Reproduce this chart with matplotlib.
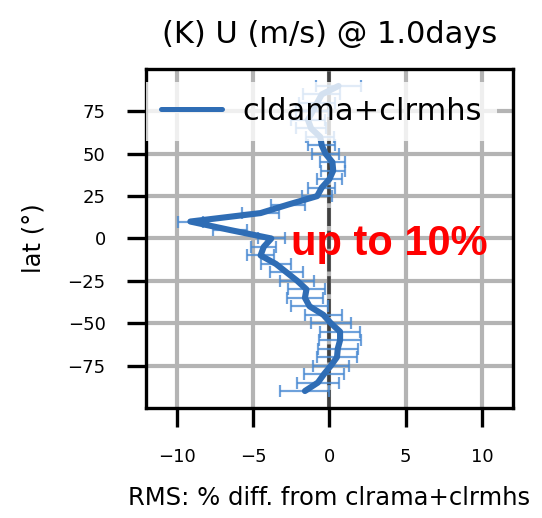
import numpy as np
import matplotlib
matplotlib.use("Agg")
import matplotlib.pyplot as plt

# latitude of each zonal band (deg)
lat = [90, 85, 80, 75, 70, 65, 60, 55, 50, 45, 40, 35, 30, 25, 20, 15, 10, 5,
       0, -5, -10, -15, -20, -25, -30, -35, -40, -45, -50, -55, -60, -65, -70,
       -75, -80, -85, -90]
# RMS % difference from clrama+clrmhs
rms_diff = [0.6, -0.5, -0.8, -1.1, -1.4, -1.2, -0.6, -0.5, -0.25, 0.2, 0.25,
            0.0, -0.5, -0.8, -2.7, -4.5, -9.1, -6.5, -3.8, -4.3, -4.5, -3.5,
            -2.8, -2.1, -1.5, -1.6, -1.3, -0.4, 0.1, 0.7, 0.7, 0.55, 0.5, 0.1,
            -0.35, -0.75, -1.6]
# error bar half widths
rms_err = [1.5, 1.2, 1.2, 1.1, 1.1, 1.0, 0.9, 0.9, 0.9, 0.8, 0.8, 0.8, 0.9,
           1.0, 1.1, 1.2, 0.8, 1.1, 0.9, 0.8, 0.9, 1.0, 1.1, 1.1, 1.2, 1.2,
           1.2, 1.2, 1.3, 1.3, 1.4, 1.3, 1.3, 1.2, 1.3, 1.4, 1.6]

xticks = [-10, -5, 0, 5, 10]
yticks = [-75, -50, -25, 0, 25, 50, 75]

line_col = "#2f6db5"
err_col = "#4a8ad2"

fig = plt.figure(figsize=(5.42, 5.18), dpi=100)
ax = fig.add_axes([0.2694, 0.2124, 0.6766, 0.6544])

ax.grid(True, color="#b4b4b4", linewidth=3.0, zorder=0)
ax.set_axisbelow(True)
ax.axvline(0, color="#404040", linewidth=2.6, dashes=(5, 1.3), zorder=1)

ax.errorbar(rms_diff, lat, xerr=rms_err, fmt="none", ecolor=err_col,
            elinewidth=1.6, capsize=4, capthick=1.6, alpha=0.8, zorder=2)
ax.plot(rms_diff, lat, color=line_col, linewidth=4.4, label="cldama+clrmhs",
        solid_capstyle="round", solid_joinstyle="round", zorder=3)

ax.set_xlim(-12, 12)
ax.set_ylim(-100, 100)
ax.set_xticks(xticks)
ax.set_yticks(yticks)
ax.tick_params(length=14, width=2.4, pad=15, labelsize=13, color="black")
for s in ax.spines.values():
    s.set_linewidth(2.4)

ax.set_title("(K) U (m/s) @ 1.0days", fontsize=22, pad=19)
ax.set_xlabel("RMS: % diff. from clrama+clrmhs", fontsize=17.5, labelpad=14)
ax.set_ylabel("lat (°)", fontsize=17.5, labelpad=16)

leg = ax.legend(loc="upper left", bbox_to_anchor=(0, 0.962), fontsize=22,
                borderaxespad=0, borderpad=0.5, handlelength=2.0,
                handletextpad=0.65, framealpha=0.8)
leg.get_frame().set_edgecolor("none")
leg.get_frame().set_boxstyle("square", pad=0)
leg.get_lines()[0].set_linewidth(3.6)

ax.text(0.395, 0.451, "up to 10%", transform=ax.transAxes, color="red",
        fontsize=30, fontweight="bold", family="Liberation Sans",
        ha="left", va="baseline", zorder=6)

fig.savefig("out.png", dpi=100)
